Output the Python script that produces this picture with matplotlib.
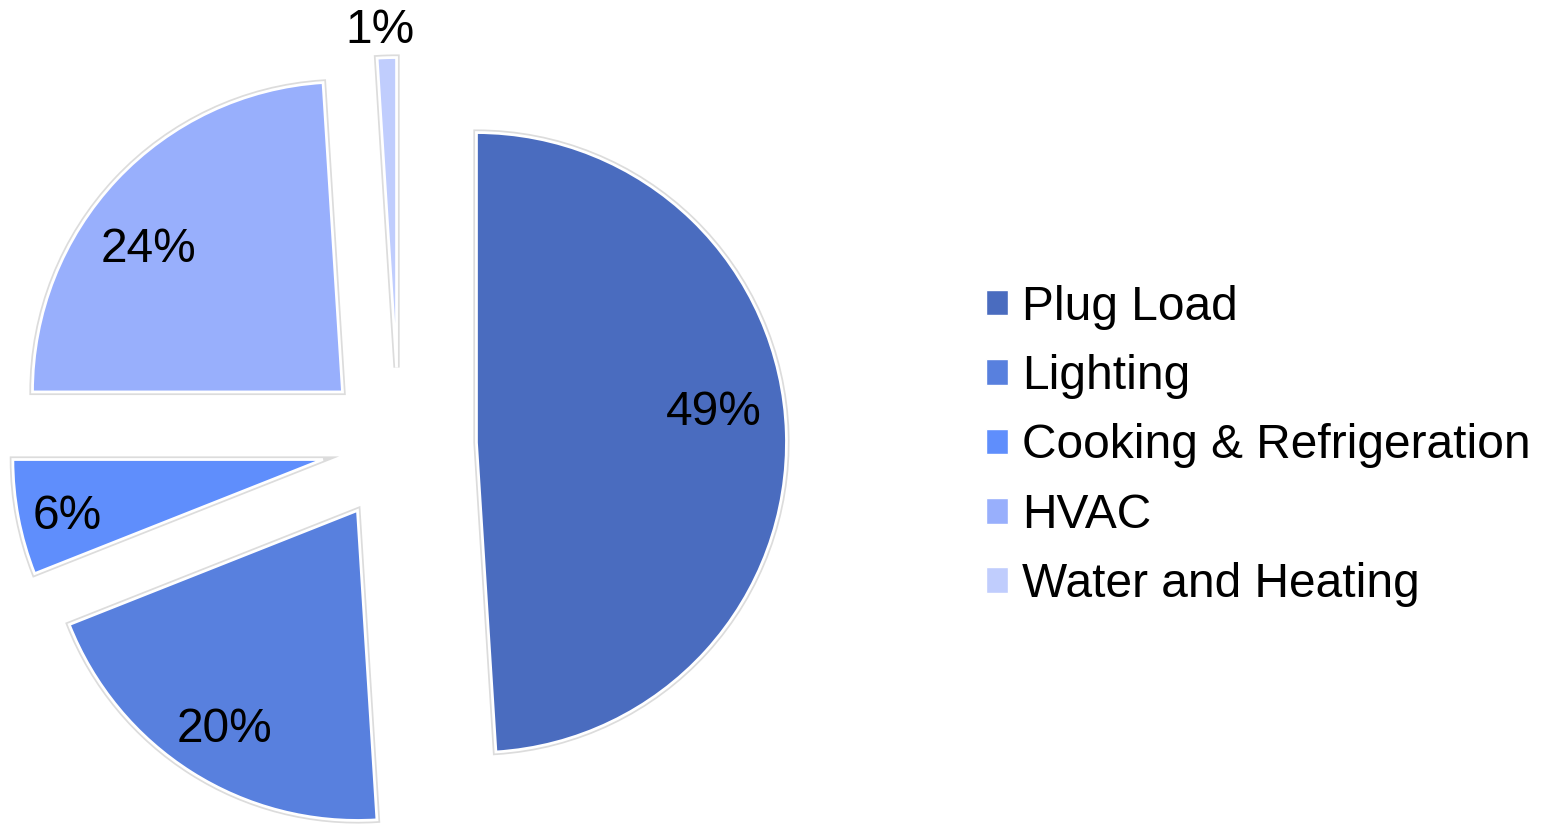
import numpy as np
import matplotlib.pyplot as plt
from matplotlib.transforms import offset_copy

plt.rcParams['font.family'] = ['Liberation Sans', 'DejaVu Sans']

categories = ["Plug Load", "Lighting", "Cooking & Refrigeration", "HVAC", "Water and Heating"]
shares = [49, 20, 6, 24, 1]
pct_labels = ["49%", "20%", "6%", "24%", "1%"]
colors = ["#4A6CBF", "#5880DE", "#5F8EFC", "#98AFFC", "#C0CDFD"]

W, H, DPI = 1542, 824, 100
fig = plt.figure(figsize=(W / DPI, H / DPI), dpi=DPI)
ax = fig.add_axes([0, 0, 1, 1])

explode = [0.25] * len(shares)

# soft grey halo underneath the slices
ax.pie(shares, explode=explode, startangle=90, counterclock=False,
       colors=["none"] * len(shares),
       wedgeprops=dict(edgecolor="#dcdcdc", linewidth=4.5, zorder=1))

wedges, _ = ax.pie(shares, explode=explode, startangle=90, counterclock=False,
                   colors=colors,
                   wedgeprops=dict(edgecolor="white", linewidth=2, zorder=2))

# percentage labels, placed along each slice's bisector
label_r = [0.773, 0.824, 0.845, 0.78, 1.092]
label_dtheta = [5.6, 1.1, 1.5, 6.7, 1.0]
label_tf = offset_copy(ax.transData, fig=fig, x=0, y=4, units="dots")
for w, txt, r, dt in zip(wedges, pct_labels, label_r, label_dtheta):
    mid = np.deg2rad((w.theta1 + w.theta2) / 2 + dt)
    cx, cy = w.center
    ax.text(cx + r * np.cos(mid), cy + r * np.sin(mid), txt,
            ha="center", va="center_baseline", fontsize=34.5,
            color="black", zorder=5, transform=label_tf)

# map data units to pixels: radius 1 -> 310 px, pie centre at (399, 445) from top-left
R = 310.0
cx_px, cy_px = 399.0, 445.0
ax.set_xlim(-cx_px / R, (W - cx_px) / R)
ax.set_ylim(-(H - cy_px) / R, cy_px / R)
ax.set_aspect("equal", adjustable="box")
ax.axis("off")

leg = ax.legend(wedges, categories, loc="center left",
                bbox_to_anchor=(986 / W, 1 - 446 / H),
                bbox_transform=fig.transFigure,
                frameon=False, fontsize=34.5,
                handlelength=0.45, handleheight=0.45,
                handletextpad=0.3, labelspacing=0.51,
                borderpad=0, borderaxespad=0)
for h in leg.legend_handles:
    h.set_edgecolor("white")
    h.set_linewidth(1)

fig.savefig("out.png", dpi=DPI, facecolor="white")
